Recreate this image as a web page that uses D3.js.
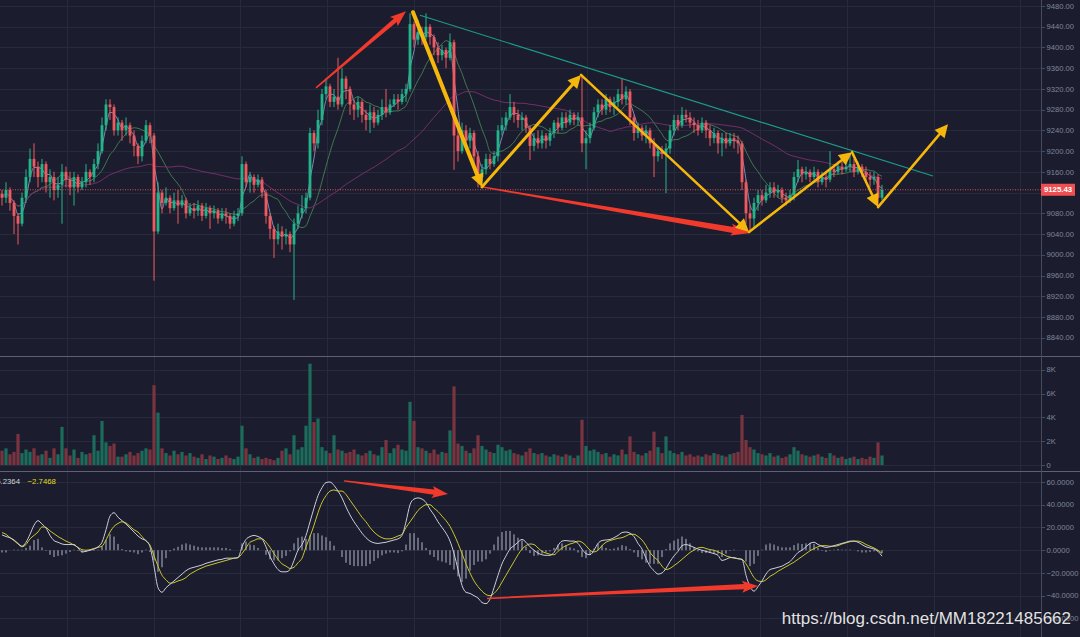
<!DOCTYPE html>
<html><head><meta charset="utf-8">
<script src="https://cdn.jsdelivr.net/npm/d3@7"></script>
<style>html,body{margin:0;padding:0;background:#1b1d2e;overflow:hidden}svg{display:block}</style>
</head><body><svg id="c" width="1080" height="637"></svg>
<script>
// ---------- DATA ----------
const firstOpen = 9118;
const close = [
9110,9125,9100,9075,9060,9110,9150,9185,9170,9150,
9175,9140,9150,9125,9135,9160,9145,9130,9150,9130,
9140,9160,9150,9175,9200,9250,9290,9285,9240,9255,
9240,9250,9230,9210,9190,9220,9250,9230,9045,9120,
9100,9110,9090,9105,9095,9105,9080,9090,9085,9095,
9075,9090,9080,9085,9070,9080,9075,9060,9075,9080,
9175,9140,9150,9135,9145,9120,9075,9050,9030,9045,
9035,9040,9020,9060,9080,9090,9110,9235,9215,9260,
9310,9325,9295,9305,9290,9340,9320,9290,9280,9295,
9270,9260,9275,9255,9270,9285,9275,9290,9300,9295,
9310,9320,9445,9415,9430,9420,9440,9420,9400,9385,
9395,9380,9410,9230,9200,9240,9220,9235,9190,9150,
9165,9185,9175,9190,9240,9250,9265,9285,9270,9260,
9265,9245,9210,9225,9215,9230,9220,9235,9255,9245,
9265,9255,9270,9260,9265,9215,9225,9245,9275,9290,
9280,9300,9285,9295,9310,9300,9315,9265,9235,9245,
9230,9240,9215,9190,9200,9195,9205,9240,9260,9250,
9270,9265,9255,9250,9240,9255,9240,9225,9235,9215,
9225,9215,9225,9220,9215,9140,9080,9070,9100,9115,
9105,9120,9130,9120,9125,9110,9105,9115,9150,9165,
9155,9160,9150,9160,9140,9150,9145,9165,9160,9170,
9165,9170,9175,9160,9170,9160,9150,9145,9150,9110,
9125.43];
const high = [
9125,9140,9130,9105,9080,9120,9165,9205,9215,9180,
9185,9180,9165,9160,9150,9175,9170,9160,9160,9155,
9150,9175,9165,9185,9215,9265,9300,9300,9290,9265,
9260,9265,9255,9240,9215,9230,9260,9255,9235,9140,
9125,9130,9115,9120,9125,9115,9110,9100,9100,9105,
9100,9100,9095,9095,9090,9090,9090,9080,9085,9090,
9190,9180,9160,9155,9155,9150,9125,9080,9055,9060,
9055,9050,9045,9070,9095,9115,9120,9245,9240,9280,
9320,9340,9330,9320,9380,9360,9345,9325,9300,9305,
9300,9280,9290,9285,9280,9300,9320,9300,9310,9310,
9320,9330,9466,9450,9453,9440,9466,9445,9425,9410,
9405,9400,9427,9415,9245,9255,9250,9245,9240,9200,
9175,9195,9195,9200,9250,9265,9275,9310,9295,9280,
9275,9270,9250,9235,9240,9240,9235,9245,9260,9265,
9275,9275,9280,9275,9275,9348,9240,9255,9285,9300,
9300,9310,9305,9305,9320,9340,9325,9320,9270,9255,
9250,9250,9245,9225,9210,9210,9215,9250,9270,9270,
9285,9280,9275,9265,9260,9265,9260,9250,9245,9240,
9235,9235,9235,9235,9230,9220,9145,9095,9110,9125,
9125,9135,9140,9140,9135,9130,9120,9125,9160,9183,
9170,9170,9165,9170,9165,9160,9160,9200,9175,9180,
9180,9180,9195,9185,9180,9175,9170,9160,9160,9155,
9135];
const low = [
9095,9100,9085,9040,9020,9055,9100,9140,9150,9130,
9140,9120,9110,9105,9110,9060,9130,9115,9095,9120,
9125,9130,9135,9140,9165,9195,9240,9260,9230,9230,
9220,9230,9215,9190,9175,9180,9215,9215,8950,9040,
9080,9095,9080,9085,9060,9090,9070,9075,9070,9075,
9065,9070,9050,9070,9060,9065,9060,9050,9055,9065,
9075,9130,9120,9120,9130,9110,9060,9030,8994,9020,
9010,9020,9005,8913,9050,9070,9080,9105,9200,9205,
9250,9300,9285,9285,9280,9285,9300,9270,9260,9265,
9255,9240,9235,9245,9250,9260,9265,9270,9285,9280,
9290,9295,9315,9400,9405,9405,9415,9405,9385,9370,
9375,9360,9375,9164,9180,9195,9210,9205,9175,9130,
9128,9155,9165,9170,9180,9230,9240,9260,9255,9245,
9240,9235,9183,9200,9205,9205,9205,9210,9225,9235,
9240,9245,9250,9250,9250,9198,9165,9215,9240,9265,
9270,9270,9275,9270,9285,9290,9290,9250,9220,9225,
9220,9215,9205,9150,9180,9185,9119,9195,9230,9240,
9245,9255,9245,9235,9230,9235,9225,9210,9215,9195,
9190,9205,9210,9205,9195,9125,9060,9045,9050,9085,
9095,9100,9110,9110,9110,9100,9095,9100,9105,9140,
9140,9145,9140,9145,9130,9135,9130,9140,9150,9155,
9155,9160,9160,9150,9155,9150,9140,9130,9135,9095,
9105];
const volumeK = [
1.2,1.4,0.9,1.1,2.6,1.0,1.3,1.1,1.4,0.8,
0.9,1.2,0.6,1.4,0.9,3.2,1.4,0.8,1.3,0.6,
1.1,0.9,1.0,2.5,1.2,3.7,1.9,1.6,1.8,0.7,
0.7,0.9,1.1,0.8,1.0,1.2,1.4,1.3,6.7,4.4,
1.4,1.0,0.8,1.2,0.9,1.1,0.8,1.0,0.7,0.6,
0.9,0.5,0.8,0.7,0.5,0.6,0.8,0.6,0.5,0.7,
3.3,1.4,0.9,0.6,0.7,0.5,0.6,0.5,0.4,0.6,
1.2,1.4,0.9,2.5,1.3,1.5,3.3,8.5,3.6,3.9,
1.5,1.2,1.0,2.5,1.3,1.2,1.0,1.1,1.3,0.9,
0.8,1.0,1.2,0.9,0.8,1.5,2.1,1.0,1.4,1.7,
1.3,1.2,5.3,3.7,1.5,1.4,1.2,1.0,1.3,0.9,
1.1,1.0,2.9,6.6,1.8,1.6,1.2,1.0,1.4,2.5,
1.6,1.3,1.1,1.0,1.7,1.5,1.2,1.3,1.0,0.9,
0.8,1.1,1.4,1.0,0.9,1.0,0.8,0.7,0.9,0.8,
0.7,0.9,0.8,0.6,0.8,3.8,1.6,1.2,1.3,1.1,
0.9,1.0,0.7,0.9,0.8,1.3,0.9,2.4,1.1,0.9,
0.8,1.0,1.2,2.8,1.5,1.0,2.4,1.2,1.0,0.9,
1.1,0.8,0.9,0.7,0.8,0.7,0.9,0.8,1.0,0.9,
0.8,0.7,0.9,1.0,1.1,4.2,2.1,1.5,1.3,1.0,
0.9,0.8,1.0,0.7,0.8,0.6,0.7,0.9,1.5,1.2,
0.9,0.8,0.7,0.8,0.9,0.7,0.6,1.0,0.8,0.6,
0.7,0.5,0.6,0.7,0.5,0.6,0.5,0.7,0.6,1.9,
0.8];
const dif = [
13.5,12,11,9,6,3.5,7,14,22,26,
23,19.5,13,8.5,7,5.5,5,5,5,2,
-1.5,-1,0,1,3,7,18,30,33,29,
26,23,19.5,16,12.5,10,8.5,3,-14,-33,
-37,-33,-30,-27,-24,-21,-18,-16,-15,-14,
-13,-11.5,-10.5,-9.5,-8.5,-8,-7,-7,-7,-6.5,
3,9.5,12,13,12,10,3,-5.5,-12,-17,
-19,-19,-17,-9,0,5,13,25,37,48,
55,59.5,60,57,52,46,38,31,25,20,
15,11,8,6.5,6,6.5,7,8,9,10,
13,25,40,45,46,45,42,36,31,25,
20,15,8,-3,-17,-31,-37,-38,-40,-42,
-46,-47,-43,-33,-22,-12,-5,1,4,7,
9.5,7,3,0,-2.5,-4,-4.5,-4.5,-2,4,
8,8.5,8,8,6,1,-3,-4,0,6,
8.5,9,9.5,11,13,15.5,16,15,12,6,
1,-7,-14,-18,-21,-20,-16,-10,-5,-1,
4,5,4,2.5,1,0,-1,-2,-3,-4.5,
-9,-8,-6.5,-6.5,-7.5,-8,-22,-32,-36,-32,
-27,-21,-17,-16,-15,-14,-12,-10,-6,-2,
0,3,6,7,5,3.5,2.5,3,4,5,
6,7,8,8,7,5,3,2,1,-1,
-5.2364];
const dea = [
15.5,14,11,8.5,5.5,3,5,10,13,16,
20.5,20,17,14.5,12,10,8,6.5,4.5,2.5,
0.5,0,0.5,1.5,2.5,3.5,9,16,21,23.5,
25,24,21,18,16,12,8,4.5,-5,-14,
-22,-26,-29,-28.5,-27,-26,-24,-21,-19,-17,
-15.5,-14,-13,-12,-11,-10,-9,-8,-7,-6.5,
-3,2,7,8.5,10,10,7,2.5,-3,-8,
-12,-14,-16,-15,-11,-7,3,12,22,33,
42,48,52,53,52,52,49,44,39,34,
29,25,20,16,13,11,10,10,11,12.5,
14,20,25,30,35,38,40,40,37,34,
30,26,21,14,6,-3,-12,-20,-27,-32,
-36,-39,-40,-38,-34,-28,-22,-16,-10,-4,
1,4,5.5,5,2,-1,-2.5,-3.5,-4,-1,
2,4,5.5,6.5,8,7,4,0,-1.5,0,
4,7,8.5,9.5,10.5,11,12.5,14,14,12,
9,4,-2,-6,-9,-14,-17,-16,-13.5,-11,
-8,-5,-2,0,2,2.5,1.5,0.5,0,-1.5,
-3,-5,-6,-7,-7.5,-8,-12,-18,-24,-27,
-27.5,-26,-23,-21,-18.5,-16.5,-14.5,-12.5,-10.5,-8,
-5.5,-3,-0.5,1.5,3,4,4,3.5,3.5,4,
5.5,6.5,7.5,8,8,7,5,3.5,2,0,
-2.7468];
const priceTicks = [8840,8880,8920,8960,9000,9040,9080,9120,9160,9200,9240,9280,9320,9360,9400,9440,9480];
const volTicks = [0,2000,4000,6000,8000];
const volTickLabels = ["0","2K","4K","6K","8K"];
const macdTicks = [-60,-40,-20,0,20,40,60];
const lastPrice = 9125.43;
const maWindows = [3,10,40];
// hand-drawn annotations, in (candle index, value) units
const yellowPath = [[102.75,9468],[120,9131],[144.75,9347],[186.75,9044],[212.5,9198],[219,9092],[236.5,9252]];
const yellowWidths = [4,3,2.5,2.5,2.5,2.5];
const trendLine = [[104.5,9462],[232.75,9152]];
const redPriceArrows = [[[78.5,9322],[101,9470]],[[120,9131],[187.2,9042]]];
const redMacdArrows = [[[85.5,61],[111.5,49.5]],[[121.25,-42.4],[189,-31.5]]];

// ---------- DRAW ----------
const svg = d3.select('#c');
const axisX = 1041;
const x = d3.scaleLinear().domain([0,260]).range([2,1042]);
const yP = d3.scaleLinear().domain([8840,9480]).range([337.7,6]);
const yV = d3.scaleLinear().domain([0,8000]).range([465,369.7]);
const yM = d3.scaleLinear().domain([-40,60]).range([595.7,482]);
const GREEN='#22b58a', RED='#ef5a5f', GRID='#262a3c', LBL='#80869a';

svg.append('rect').attr('width',1080).attr('height',637).attr('fill','#1b1d2e');

const defs = svg.append('defs');
defs.append('clipPath').attr('id','cp').append('rect').attr('x',0).attr('y',0).attr('width',axisX).attr('height',356);
defs.append('clipPath').attr('id','cm').append('rect').attr('x',0).attr('y',472).attr('width',axisX).attr('height',165);

const grid = svg.append('g').attr('stroke',GRID).attr('stroke-width',1);
const vgrid = d3.range(0,12).map(k=>Math.round(67+86.67*k)+0.5);
vgrid.forEach(v=>grid.append('line').attr('x1',v).attr('x2',v).attr('y1',0).attr('y2',637));
priceTicks.forEach(t=>grid.append('line').attr('x1',0).attr('x2',axisX).attr('y1',Math.round(yP(t))+0.5).attr('y2',Math.round(yP(t))+0.5));
volTicks.forEach(t=>grid.append('line').attr('x1',0).attr('x2',axisX).attr('y1',Math.round(yV(t))+0.5).attr('y2',Math.round(yV(t))+0.5));
macdTicks.forEach(t=>grid.append('line').attr('x1',0).attr('x2',axisX).attr('y1',Math.round(yM(t))+0.5).attr('y2',Math.round(yM(t))+0.5));

const open = close.map((c,i)=> i===0 ? firstOpen : close[i-1]);
const N = close.length;
const idx = d3.range(N);

// volume
svg.append('g').selectAll('rect').data(idx).join('rect')
  .attr('x',i=>x(i)-1.6).attr('width',3.2)
  .attr('y',i=>yV(volumeK[i]*1000)).attr('height',i=>yV(0)-yV(volumeK[i]*1000))
  .attr('fill',i=>close[i]>=open[i]?'#1d6b5a':'#7a3440');

// price pane
const pp = svg.append('g').attr('clip-path','url(#cp)');
function sma(n){return close.map((c,i)=>d3.mean(close.slice(Math.max(0,i-n+1),i+1)));}
const maColors=['#8792c4','#447f52','#7c2f6c'];
maWindows.forEach((n,k)=>{
  const m=sma(n);
  pp.append('path').datum(idx).attr('fill','none').attr('stroke',maColors[k]).attr('stroke-width',1).attr('opacity',0.9)
    .attr('d',d3.line().x(i=>x(i)).y(i=>yP(m[i])).curve(d3.curveMonotoneX));
});
const cg = pp.append('g');
idx.forEach(i=>{
  const o=open[i],c=close[i],up=c>=o,col=up?GREEN:RED;
  const hi=Math.max(high[i],o,c), lo=Math.min(low[i],o,c);
  cg.append('line').attr('x1',x(i)).attr('x2',x(i)).attr('y1',yP(hi)).attr('y2',yP(lo)).attr('stroke',col).attr('stroke-width',1);
  const top=yP(Math.max(o,c)), bot=yP(Math.min(o,c));
  cg.append('rect').attr('x',x(i)-1.4).attr('width',2.8).attr('y',top).attr('height',Math.max(1,bot-top)).attr('fill',col);
});
pp.append('line').attr('x1',0).attr('x2',axisX).attr('y1',yP(lastPrice)).attr('y2',yP(lastPrice))
  .attr('stroke','#d9545a').attr('stroke-width',1).attr('stroke-dasharray','1,1.5');
pp.append('line').attr('x1',x(trendLine[0][0])).attr('y1',yP(trendLine[0][1])).attr('x2',x(trendLine[1][0])).attr('y2',yP(trendLine[1][1]))
  .attr('stroke','#1c9d8c').attr('stroke-width',1.1);

function taperArrow(g,x0,y0,x1,y1,w0,w1,hw,hl){
  const dx=x1-x0,dy=y1-y0,L=Math.hypot(dx,dy),ux=dx/L,uy=dy/L,nx=-uy,ny=ux;
  const p=(s,t)=>[x0+ux*s+nx*t,y0+uy*s+ny*t];
  const pts=[p(0,-w0),p(L-hl,-w1),p(L-hl-2,-hw),p(L,0),p(L-hl-2,hw),p(L-hl,w1),p(0,w0)];
  g.append('path').attr('d','M'+pts.map(q=>q.join(',')).join('L')+'Z').attr('fill','#f23a2c');
}
redPriceArrows.forEach((a,k)=>taperArrow(pp,x(a[0][0]),yP(a[0][1]),x(a[1][0]),yP(a[1][1]),0.7,k?3:2.2,6,k?18:14));
const yg = pp.append('g');
for(let k=0;k<yellowPath.length-1;k++){
  const x0=x(yellowPath[k][0]),y0=yP(yellowPath[k][1]),x1=x(yellowPath[k+1][0]),y1=yP(yellowPath[k+1][1]);
  const L=Math.hypot(x1-x0,y1-y0),ux=(x1-x0)/L,uy=(y1-y0)/L,nx=-uy,ny=ux,hl=13,hw=6.5;
  yg.append('line').attr('x1',x0).attr('y1',y0).attr('x2',x1-ux*hl*0.8).attr('y2',y1-uy*hl*0.8)
    .attr('stroke','#f6b70d').attr('stroke-width',yellowWidths[k]).attr('stroke-linecap','round');
  const b=[x1-ux*hl,y1-uy*hl];
  yg.append('path').attr('d',`M${x1},${y1}L${b[0]+nx*hw},${b[1]+ny*hw}L${b[0]-nx*hw},${b[1]-ny*hw}Z`).attr('fill','#f6b70d');
}

// MACD pane
const mp = svg.append('g').attr('clip-path','url(#cm)');
mp.append('g').selectAll('line').data(idx).join('line')
  .attr('x1',i=>x(i)).attr('x2',i=>x(i)).attr('y1',yM(0)).attr('y2',i=>yM(dif[i]-dea[i]))
  .attr('stroke','#b4b8c6').attr('stroke-width',1);
mp.append('path').datum(idx).attr('fill','none').attr('stroke-width',1)
  .attr('stroke','#c9c42c').attr('d',d3.line().x(i=>x(i)).y(i=>yM(dea[i])).curve(d3.curveMonotoneX));
mp.append('path').datum(idx).attr('fill','none').attr('stroke','#c9ccd8').attr('stroke-width',1)
  .attr('d',d3.line().x(i=>x(i)).y(i=>yM(dif[i])).curve(d3.curveMonotoneX));
redMacdArrows.forEach(a=>taperArrow(mp,x(a[0][0]),yM(a[0][1]),x(a[1][0]),yM(a[1][1]),0.7,2.6,6,14));

// separators and axis
svg.append('line').attr('x1',0).attr('x2',1080).attr('y1',356.5).attr('y2',356.5).attr('stroke','#5d6172');
svg.append('line').attr('x1',0).attr('x2',1080).attr('y1',471.5).attr('y2',471.5).attr('stroke','#5d6172');
svg.append('line').attr('x1',axisX+0.5).attr('x2',axisX+0.5).attr('y1',0).attr('y2',637).attr('stroke','#464a5c');

const ax = svg.append('g').attr('font-family','Liberation Sans, Arial, sans-serif').attr('font-size',7.6).attr('fill',LBL);
const ly=yP(lastPrice);
function tick(y,label,skipNearLast){
  ax.append('line').attr('x1',axisX).attr('x2',axisX+4).attr('y1',Math.round(y)+0.5).attr('y2',Math.round(y)+0.5).attr('stroke','#464a5c');
  if(skipNearLast && Math.abs(y-ly)<9) return; // hidden behind the last-price label
  ax.append('text').attr('x',axisX+5.5).attr('y',y).attr('dy','0.35em').text(label);
}
priceTicks.forEach(t=>tick(yP(t),d3.format('.2f')(t),true));
volTicks.forEach((t,k)=>tick(yV(t),volTickLabels[k],false));
macdTicks.forEach(t=>tick(yM(t),d3.format('.4f')(t),false));

// last price label
svg.append('rect').attr('x',axisX).attr('y',ly-6).attr('width',34).attr('height',12).attr('fill','#f04f52');
svg.append('text').attr('x',axisX+17).attr('y',ly).attr('dy','0.35em').attr('text-anchor','middle')
  .attr('font-family','Liberation Sans, Arial, sans-serif').attr('font-size',7.8).attr('font-weight','bold').attr('fill','#ffffff')
  .text(d3.format('.2f')(lastPrice));

// MACD legend (left part cut off at the edge, as in the source)
const lg = svg.append('g').attr('font-family','Liberation Sans, Arial, sans-serif').attr('font-size',7.8);
lg.append('text').attr('x',20).attr('y',481.5).attr('dy','0.35em').attr('text-anchor','end').attr('fill','#d0d2da').text(d3.format('.4f')(dif[N-1]));
lg.append('text').attr('x',27.5).attr('y',481.5).attr('dy','0.35em').attr('fill','#e0dc1c').text(d3.format('.4f')(dea[N-1]));

// watermark
svg.append('text').attr('x',1071).attr('y',624).attr('text-anchor','end')
  .attr('font-family','Liberation Sans, Arial, sans-serif').attr('font-size',17)
  .attr('fill','#e2e2e4').attr('stroke','rgba(20,20,30,0.6)').attr('stroke-width',1.5).attr('paint-order','stroke')
  .text('https://blog.csdn.net/MM18221485662');
</script></body></html>
